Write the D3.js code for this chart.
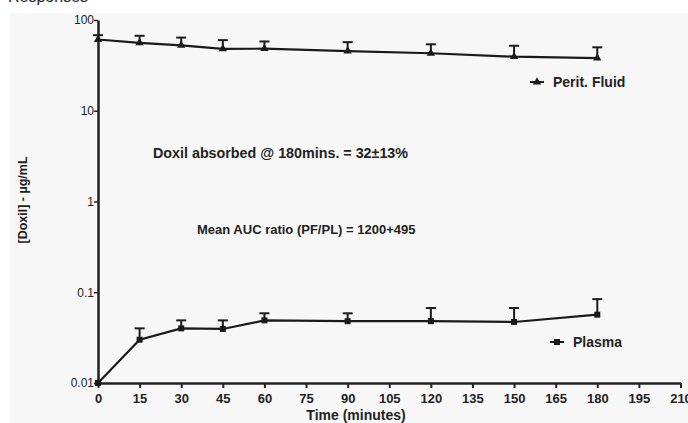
<!DOCTYPE html>
<html>
<head>
<meta charset="utf-8">
<script src="https://cdn.jsdelivr.net/npm/d3@7"></script>
<style>
  body { margin: 0; background: #fff; }
  text { font-family: "Liberation Sans", Arial, sans-serif; fill: #222; }
</style>
</head>
<body>
<div id="plot"></div>
<script>
const FRAME_WIDTH = 688;
const FRAME_HEIGHT = 423;
const MARGIN = {left: 98, right: 7, top: 20, bottom: 40};

// data
const times = [0, 15, 30, 45, 60, 90, 120, 150, 180];
const peritMean = [61, 56, 52.6, 48, 48.3, 45.5, 43, 39.4, 38];
const peritUpper = [68, 67, 64, 60, 58, 57, 54, 52, 50];
const plasmaMean = [0.01, 0.030, 0.040, 0.0394, 0.049, 0.048, 0.048, 0.047, 0.0566];
const plasmaUpper = [0.01, 0.040, 0.049, 0.049, 0.0586, 0.0586, 0.067, 0.067, 0.084];
const xTicks = d3.range(0, 211, 15);
const yTicks = [0.01, 0.1, 1, 10, 100];

const svg = d3.select("#plot")
    .append("svg")
        .attr("width", FRAME_WIDTH)
        .attr("height", FRAME_HEIGHT);

// grey panel from the scan
svg.append("rect")
    .attr("x", 10).attr("y", 13)
    .attr("width", FRAME_WIDTH - 10).attr("height", FRAME_HEIGHT - 13)
    .attr("fill", "#f7f7f7");

// cut-off heading at the top
svg.append("text")
    .attr("x", 8).attr("y", 2)
    .attr("font-size", "16px")
    .text("Responses");

const VIS_WIDTH = FRAME_WIDTH - MARGIN.left - MARGIN.right;

const X_SCALE = d3.scaleLinear().domain([0, 210]).range([MARGIN.left, MARGIN.left + VIS_WIDTH - 0.5]);
const Y_SCALE = d3.scaleLog().domain([0.01, 100]).range([383, MARGIN.top]);

// x axis
const xAxis = svg.append("g")
    .attr("transform", "translate(0,383)")
    .call(d3.axisBottom(X_SCALE).tickValues(xTicks).tickSize(5).tickSizeOuter(0));
xAxis.select(".domain").attr("stroke", "#222").attr("stroke-width", 2.5);
xAxis.selectAll(".tick line").attr("stroke", "#222").attr("stroke-width", 2);
xAxis.selectAll(".tick text")
    .attr("dy", "0.9em")
    .attr("font-size", "13px")
    .attr("font-weight", "bold")
    .attr("fill", "#222")
    .attr("font-family", "Liberation Sans, Arial, sans-serif");

// y axis
const yAxis = svg.append("g")
    .attr("transform", "translate(" + MARGIN.left + ",0)")
    .call(d3.axisLeft(Y_SCALE).tickValues(yTicks).tickFormat(d3.format("~g")).tickSize(4).tickSizeOuter(0));
yAxis.select(".domain").attr("stroke", "#222").attr("stroke-width", 2.5);
yAxis.selectAll(".tick line").attr("stroke", "#222").attr("stroke-width", 1.5);
yAxis.selectAll(".tick text")
    .attr("x", -4)
    .attr("font-size", "12px")
    .attr("fill", "#333")
    .attr("font-family", "Liberation Sans, Arial, sans-serif");

// axis titles
svg.append("text")
    .attr("x", 356).attr("y", 420)
    .attr("text-anchor", "middle")
    .attr("font-size", "14px").attr("font-weight", "bold")
    .text("Time (minutes)");

svg.append("text")
    .attr("transform", "translate(27,200) rotate(-90)")
    .attr("text-anchor", "middle")
    .attr("font-size", "12.5px").attr("font-weight", "bold")
    .text("[Doxil] - µg/mL");

// series
function drawSeries(means, uppers, marker) {
    const pts = times.map((t, i) => ({t: t, m: means[i], u: uppers[i]}));

    svg.append("path")
        .datum(pts)
        .attr("fill", "none")
        .attr("stroke", "#1a1a1a")
        .attr("stroke-width", 2.2)
        .attr("d", d3.line().x(d => X_SCALE(d.t)).y(d => Y_SCALE(d.m)));

    const err = svg.append("g").selectAll("g")
        .data(pts.filter(d => d.u > d.m))
        .enter().append("g");
    err.append("line")
        .attr("x1", d => X_SCALE(d.t)).attr("x2", d => X_SCALE(d.t))
        .attr("y1", d => Y_SCALE(d.m)).attr("y2", d => Y_SCALE(d.u))
        .attr("stroke", "#1a1a1a").attr("stroke-width", 2);
    err.append("line")
        .attr("x1", d => X_SCALE(d.t) - 5).attr("x2", d => X_SCALE(d.t) + 5)
        .attr("y1", d => Y_SCALE(d.u)).attr("y2", d => Y_SCALE(d.u))
        .attr("stroke", "#1a1a1a").attr("stroke-width", 2);

    svg.append("g").selectAll("path")
        .data(pts)
        .enter().append("path")
        .attr("transform", d => "translate(" + X_SCALE(d.t) + "," + Y_SCALE(d.m) + ")")
        .attr("d", marker)
        .attr("fill", "#1a1a1a");
}

const triangle = d3.symbol().type(d3.symbolTriangle).size(30)();
const square = d3.symbol().type(d3.symbolSquare).size(36)();

drawSeries(peritMean, peritUpper, triangle);
drawSeries(plasmaMean, plasmaUpper, square);

// legend
const legend = [
    {label: "Perit. Fluid", x: 537, y: 82, marker: triangle},
    {label: "Plasma", x: 557, y: 342, marker: square}
];
const lg = svg.append("g").selectAll("g").data(legend).enter().append("g")
    .attr("transform", d => "translate(" + d.x + "," + d.y + ")");
lg.append("line")
    .attr("x1", -7).attr("x2", 7)
    .attr("stroke", "#1a1a1a").attr("stroke-width", 2);
lg.append("path").attr("d", d => d.marker).attr("fill", "#1a1a1a");
lg.append("text")
    .attr("x", 16).attr("dy", "0.35em")
    .attr("font-size", "14px").attr("font-weight", "bold")
    .text(d => d.label);

// annotations
svg.append("text")
    .attr("x", 153).attr("y", 158)
    .attr("font-size", "14.3px").attr("font-weight", "bold")
    .text("Doxil absorbed @ 180mins. = 32±13%");

svg.append("text")
    .attr("x", 197).attr("y", 234)
    .attr("font-size", "13px").attr("font-weight", "bold")
    .text("Mean AUC ratio (PF/PL) = 1200+495");
</script>
</body>
</html>
